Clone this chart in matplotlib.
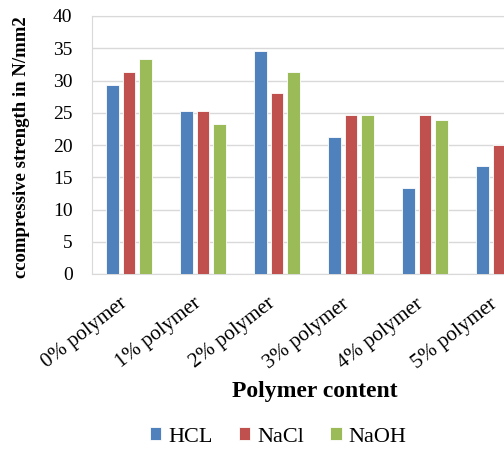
import numpy as np
import matplotlib
matplotlib.use("Agg")
import matplotlib.pyplot as plt
import matplotlib.transforms as mtransforms

categories = ['0% polymer', '1% polymer', '2% polymer', '3% polymer', '4% polymer', '5% polymer']
hcl = [29.3, 25.3, 34.6, 21.3, 13.3, 16.7]
nacl = [31.3, 25.3, 28.0, 24.6, 24.6, 20.0]
naoh = [33.3, 23.3, 31.3, 24.6, 23.9, 21.0]

series = [('HCL', hcl, '#4F81BD'), ('NaCl', nacl, '#C0504D'), ('NaOH', naoh, '#9BBB59')]

plt.rcParams['font.family'] = ['Liberation Serif', 'DejaVu Serif']

fig = plt.figure(figsize=(5.04, 4.5), dpi=100)
# plot area runs past the right edge, as in the reference
ax = fig.add_axes([92 / 504, 1 - 274 / 450, 444 / 504, 258 / 450])

x = np.arange(len(categories))
width = 0.175
step = 0.223
for i, (name, vals, col) in enumerate(series):
    ax.bar(x + (i - 1) * step, vals, width, color=col, label=name,
           edgecolor='white', linewidth=0.6, zorder=3)

ax.set_xlim(-0.5, len(categories) - 0.5)
ax.set_ylim(0, 40)
ax.set_yticks(range(0, 41, 5))
ax.yaxis.grid(True, color='#D9D9D9', linewidth=1, zorder=0)
for s in ax.spines.values():
    s.set_color('#D9D9D9')
ax.tick_params(axis='both', length=0)
ax.tick_params(axis='y', pad=14, labelsize=14)
ax.set_xticks(x)
ax.set_xticklabels(categories, rotation=38, ha='right', va='center',
                   rotation_mode='anchor', fontsize=15)
ax.tick_params(axis='x', pad=20)
shift = mtransforms.ScaledTranslation(-4 / 100, 0, fig.dpi_scale_trans)
for lab in ax.get_xticklabels():
    lab.set_transform(lab.get_transform() + shift)

ax.set_ylabel('ccompressive strength in N/mm2', fontsize=13.5, fontweight='bold')
ax.yaxis.set_label_coords(-0.14, 0.49)
ax.set_xlabel('Polymer content', fontsize=17, fontweight='bold')
ax.xaxis.set_label_coords(0.502, -0.415)

fig.legend(loc='center', bbox_to_anchor=(0.552, 0.029), ncol=3, frameon=False,
           fontsize=16, handlelength=0.5, handleheight=0.5, columnspacing=1.2,
           handletextpad=0.3)

fig.savefig('out.png', dpi=100)
